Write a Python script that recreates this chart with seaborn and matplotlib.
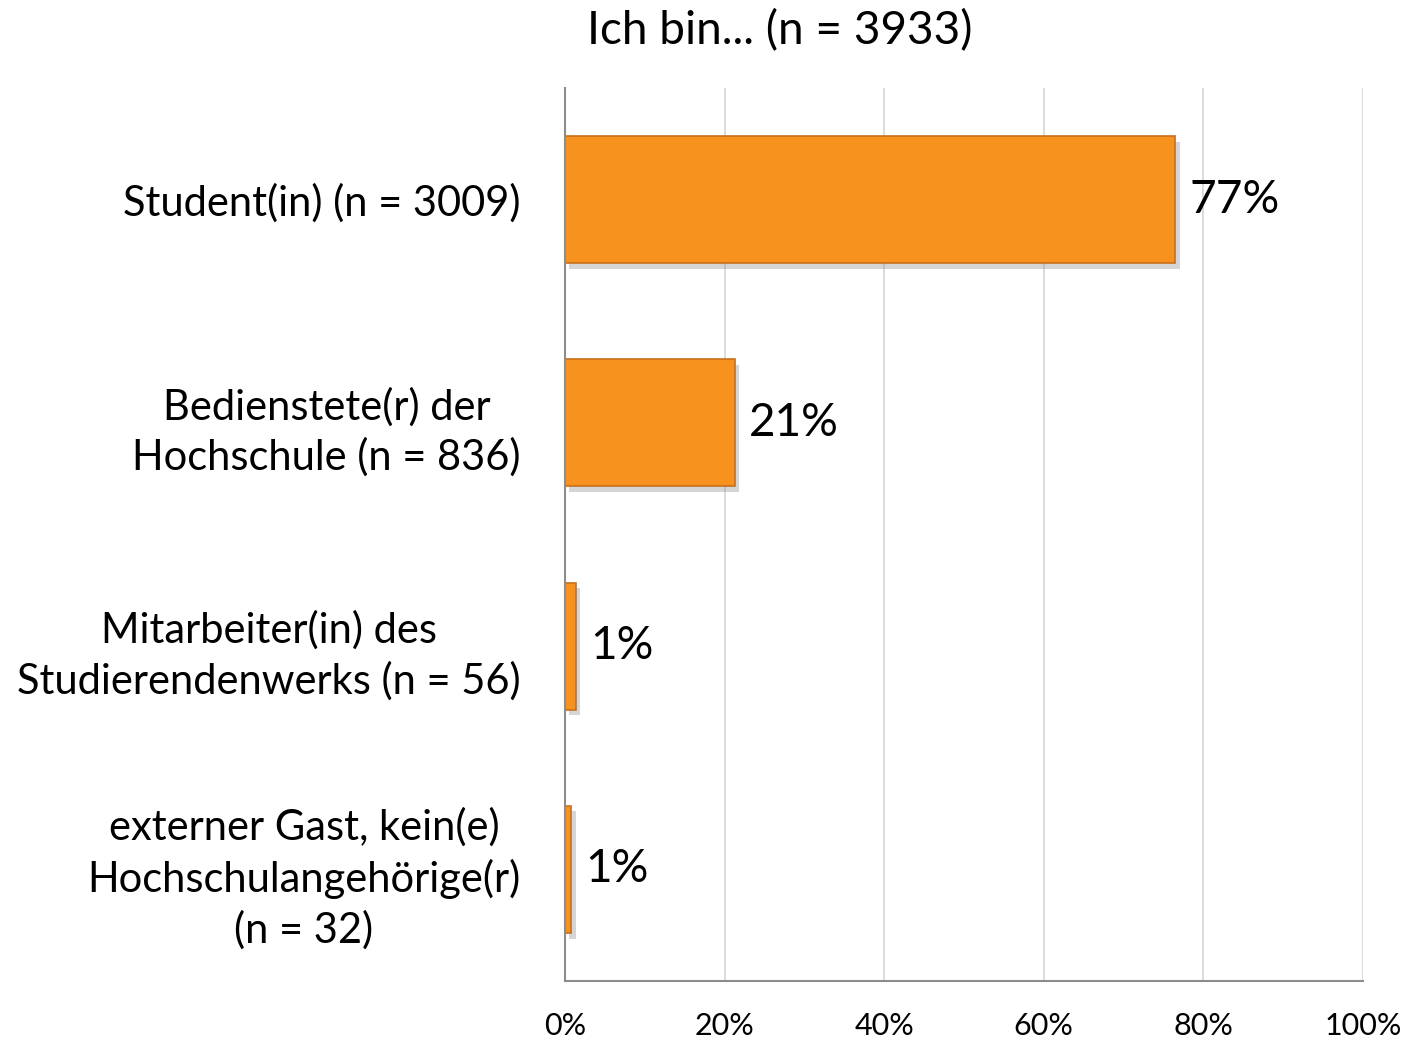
import matplotlib
matplotlib.use("Agg")
import matplotlib.pyplot as plt
import matplotlib.patheffects as pe
import seaborn as sns
import pandas as pd

categories = [
    "Student(in) (n = 3009)",
    "Bedienstete(r) der\nHochschule (n = 836)",
    "Mitarbeiter(in) des\nStudierendenwerks (n = 56)",
    "externer Gast, kein(e)\nHochschulangehörige(r)\n(n = 32)",
]
values = [76.5, 21.3, 1.4, 0.8]
value_labels = ["77%", "21%", "1%", "1%"]
tick_values = [0, 20, 40, 60, 80, 100]
tick_labels = ["0%", "20%", "40%", "60%", "80%", "100%"]
title = "Ich bin... (n = 3933)"

sns.set_theme(style="white")
plt.rcParams["font.family"] = ["Lato", "DejaVu Sans"]

df = pd.DataFrame({"cat": categories, "val": values})

fig = plt.figure(figsize=(14.13, 10.41), dpi=100)
ax = fig.add_axes([0.3999, 0.0576, 0.5647, 0.8579])

sns.barplot(data=df, y="cat", x="val", orient="h", color="#F8921F",
            width=0.57, edgecolor="#C8701A", linewidth=1.2, ax=ax,
            saturation=1)
for p in ax.patches:
    p.set_path_effects([pe.SimplePatchShadow(offset=(3, -4), alpha=0.35, shadow_rgbFace="#888888"), pe.Normal()])
    p.set_zorder(3)

ax.set_xlim(0, 100)
ax.set_xticks(tick_values)
ax.set_xticklabels(tick_labels, fontsize=22, color="black")
ax.tick_params(axis="x", length=0, pad=22)
ax.tick_params(axis="y", length=0, pad=32)
ax.set_yticks(range(len(categories)))
ax.set_yticklabels(categories, fontsize=30, multialignment="center",
                   linespacing=1.35, color="black")
ax.set_xlabel("")
ax.set_ylabel("")

ax.grid(axis="x", color="#D9D9D9", linewidth=1.3, zorder=0)
ax.set_axisbelow(True)
for s in ["top", "right"]:
    ax.spines[s].set_visible(False)
for s in ["left", "bottom"]:
    ax.spines[s].set_color("#8C8C8C")
    ax.spines[s].set_linewidth(1.5)
    ax.spines[s].set_zorder(4)

for i, (v, lab) in enumerate(zip(values, value_labels)):
    ax.annotate(lab, xy=(v, i), xytext=(10, 0), textcoords="offset points",
                va="center", ha="left", fontsize=33, color="black")

fig.text(0.552, 0.971, title, ha="center", va="center", fontsize=33, color="black")

fig.savefig("out.png", dpi=100)
